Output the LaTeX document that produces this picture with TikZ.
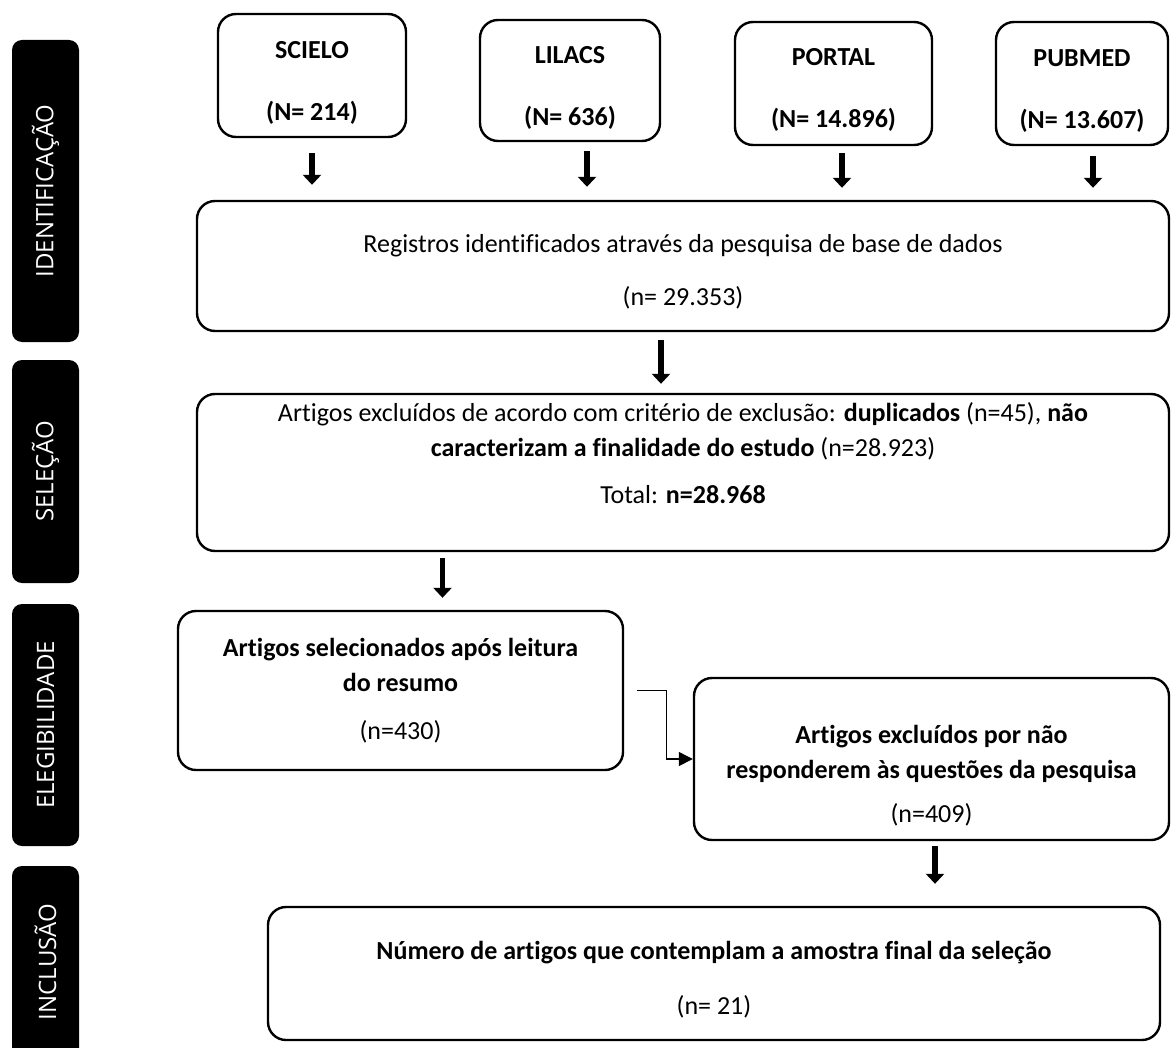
\documentclass[tikz,border=0pt]{standalone}
\usepackage{fontspec}
\setmainfont{Carlito}[Ligatures=CommonOff]
\newfontfamily\phasefont{Open Sans}
\usetikzlibrary{arrows.meta, positioning}

\begin{document}
\begin{tikzpicture}[x=0.5pt,y=-0.5pt,box/.style={rectangle,rounded corners=9pt,draw,line width=1.2pt,align=center,inner sep=0pt,font=\fontsize{13}{17.5}\selectfont},source/.style={box,font=\fontsize{13}{17.5}\selectfont\bfseries},phase/.style={rectangle,rounded corners=5pt,fill=black,text=white,rotate=90,minimum height=33.5pt,inner sep=0pt,font=\phasefont\fontsize{12}{14}\selectfont},down/.style={-{Triangle[width=9pt,length=5pt]},line width=2.6pt},link/.style={-{Triangle[width=7pt,length=7pt]},line width=0.6pt}]
\useasboundingbox (0,0) rectangle (1171,1048);
\clip (0,0) rectangle (1171,1048);
\node[phase,minimum width=151pt] (ident) at (45.5,191) {IDENTIFICAÇÃO};
\node[phase,minimum width=111.5pt] (selec) at (45.5,471.5) {SELEÇÃO};
\node[phase,minimum width=121pt] (elegib) at (45.5,725) {ELEGIBILIDADE};
\node[phase,minimum width=96pt] (inclus) at (45.5,962) {INCLUSÃO};
\node[source,minimum width=94pt,minimum height=61.5pt] (scielo) at (312,75.5) {\rule{0pt}{16pt}SCIELO\\[13.5pt](N= 214)};
\node[source,minimum width=90pt,minimum height=60.5pt] (lilacs) at (570,80.5) {\rule{0pt}{16pt}LILACS\\[13.5pt](N= 636)};
\node[source,minimum width=98.5pt,minimum height=61.5pt] (portal) at (833.5,83.5) {\rule{0pt}{15pt}PORTAL\\[13.5pt](N= 14.896)};
\node[source,minimum width=86pt,minimum height=61.5pt] (pubmed) at (1082,83.5) {\rule{0pt}{16pt}PUBMED\\[13.5pt](N= 13.607)};
\node[box,minimum width=486pt,minimum height=65pt] (reg) at (683,266) {\rule{0pt}{14.8pt}Registros identificados através da pesquisa de base de dados\\[9pt](n= 29.353)};
\node[box,minimum width=486pt,minimum height=78.5pt] (sel) at (683,472.5) {Artigos excluídos de acordo com critério de exclusão: \textbf{duplicados} (n=45), \textbf{não}\\\textbf{caracterizam a finalidade do estudo} (n=28.923)\\[6pt]Total: \textbf{n=28.968}\\[2.5pt]\mbox{}};
\node[box,minimum width=222.5pt,minimum height=79.5pt] (elig) at (400.5,690.5) {\textbf{Artigos selecionados após leitura}\\\textbf{do resumo}\\[6.5pt](n=430)};
\node[box,minimum width=237.5pt,minimum height=81pt] (excl) at (931.5,759) {\rule{0pt}{25.8pt}\textbf{Artigos excluídos por não}\\\textbf{responderem às questões da pesquisa}\\[4.5pt](n=409)};
\node[box,minimum width=446pt,minimum height=66.5pt] (incl) at (714,973.5) {\rule{0pt}{14.8pt}\textbf{Número de artigos que contemplam a amostra final da seleção}\\[10pt](n= 21)};
% setas entre as etapas
\draw[down,shorten <=7.5pt,shorten >=7.5pt] (scielo.south) -- (scielo.south |- reg.north);
\draw[down,shorten <=4.5pt,shorten >=6.5pt] ([xshift=8.5pt]lilacs.south) -- ([xshift=8.5pt]lilacs.south |- reg.north);
\draw[down,shorten <=3.5pt,shorten >=6pt] ([xshift=4.25pt]portal.south) -- ([xshift=4.25pt]portal.south |- reg.north);
\draw[down,shorten <=5pt,shorten >=6pt] ([xshift=5.5pt]pubmed.south) -- ([xshift=5.5pt]pubmed.south |- reg.north);
\draw[down,shorten <=4pt,shorten >=4.5pt] ([xshift=-11pt]reg.south) -- ([xshift=-11pt]reg.south |- sel.north);
\draw[down,shorten <=3pt,shorten >=6pt] ([xshift=21pt]elig.north |- sel.south) -- ([xshift=21pt]elig.north);
\draw[down,shorten <=2.5pt,shorten >=11pt] ([xshift=1.75pt]excl.south) -- ([xshift=1.75pt]excl.south |- incl.north);
\draw[link] ([xshift=6.5pt]elig.east) -- ++(14.5pt,0) |- (excl.west);
\end{tikzpicture}
\end{document}
